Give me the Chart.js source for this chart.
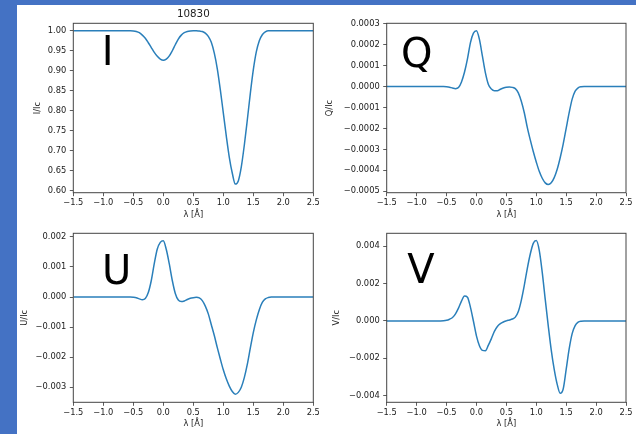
<!DOCTYPE html>
<html>
<head>
<meta charset="utf-8">
<script src="https://cdn.jsdelivr.net/npm/chart.js@4.4.0/dist/chart.umd.min.js"></script>
<style>
  body { margin: 0; background: #fff; }
  #page { position: relative; width: 636px; height: 434px; overflow: hidden; background: #fff; }
  .bar { position: absolute; background: #4472c4; }
  canvas { position: absolute; }
</style>
</head>
<body>
<div id="page">
  <div class="bar" style="left:0;top:0;width:636px;height:5px"></div>
  <div class="bar" style="left:0;top:0;width:17px;height:434px"></div>
  <canvas id="cI" width="310" height="212" style="left:18px;top:6px"></canvas>
  <canvas id="cQ" width="318" height="212" style="left:318px;top:6px"></canvas>
  <canvas id="cU" width="310" height="216" style="left:18px;top:218px"></canvas>
  <canvas id="cV" width="318" height="216" style="left:318px;top:218px"></canvas>
</div>
<script>
document.addEventListener("DOMContentLoaded", function() {

// wavelength offsets (Angstrom)
var wl = [-1.5, -1.0, -0.6, -0.55, -0.5, -0.45, -0.4, -0.35, -0.3, -0.25, -0.2, -0.15, -0.1, -0.05,
          0, 0.05, 0.1, 0.15, 0.2, 0.25, 0.3, 0.35, 0.4, 0.45, 0.5, 0.55, 0.6, 0.65, 0.7, 0.75,
          0.8, 0.85, 0.9, 0.95, 1.0, 1.05, 1.1, 1.15, 1.2, 1.25, 1.3, 1.35, 1.4, 1.45, 1.5, 1.55,
          1.6, 1.65, 1.7, 1.75, 1.8, 1.85, 1.9, 2.0, 2.5];

// Stokes profiles
var iVals = [1.0, 1.0, 1.0, 1.0, 0.9995, 0.998, 0.995, 0.989, 0.981, 0.970, 0.958, 0.946, 0.936, 0.929,
             0.926, 0.929, 0.937, 0.950, 0.965, 0.979, 0.989, 0.995, 0.998, 0.9995, 1.0, 1.0, 0.999, 0.998, 0.994, 0.986,
             0.971, 0.944, 0.905, 0.853, 0.795, 0.737, 0.684, 0.644, 0.617, 0.625, 0.660, 0.714, 0.777, 0.843, 0.902, 0.947,
             0.975, 0.990, 0.997, 1.0, 1.0, 1.0, 1.0, 1.0, 1.0];

var qVals = [0, 0, 0, 0, -0.000001, -0.000003, -0.000007, -0.00001, -0.000005, 0.000022, 0.000068, 0.000132, 0.00021, 0.000255,
             0.000266, 0.000225, 0.000145, 0.000065, 0.00001, -0.000012, -0.00002, -0.00002, -0.000013, -0.000007, -0.000003, -0.000002, -0.000004, -0.00001, -0.00003, -0.00007,
             -0.000125, -0.000195, -0.000255, -0.00031, -0.00036, -0.000405, -0.000438, -0.00046, -0.000468, -0.00046, -0.000435, -0.000395, -0.00034, -0.000275, -0.0002, -0.000125,
             -0.00006, -0.000022, -0.000006, -0.000001, 0, 0, 0, 0, 0];

var uVals = [0, 0, 0, 0, -0.000005, -0.00002, -0.00006, -0.00009, -0.00005, 0.00015, 0.00055, 0.00112, 0.0016, 0.00182,
             0.00187, 0.00158, 0.0011, 0.00055, 0.00012, -0.0001, -0.00015, -0.00013, -0.00008, -0.00004, -0.00002, -0.00001, -0.00003, -0.00012, -0.0003, -0.00056,
             -0.00092, -0.00128, -0.00168, -0.00206, -0.00242, -0.00272, -0.00296, -0.00314, -0.00323, -0.00317, -0.003, -0.00268, -0.00224, -0.0017, -0.00118, -0.00076,
             -0.00042, -0.00018, -0.00006, -0.000015, 0, 0, 0, 0, 0];

var vVals = [0, 0, 0, 0.000005, 0.00003, 0.00009, 0.00018, 0.00038, 0.00068, 0.00106, 0.00133, 0.00127, 0.00072, -0.00002,
             -0.0008, -0.00133, -0.00158, -0.0016, -0.0013, -0.00095, -0.00056, -0.0003, -0.00015, -0.00006, 0, 0.00005, 0.0001, 0.0002, 0.0005, 0.0011,
             0.0019, 0.0028, 0.00358, 0.00415, 0.0043, 0.00378, 0.0026, 0.00115, -0.00025, -0.00155, -0.0026, -0.0034, -0.00388, -0.00365, -0.0026, -0.0015,
             -0.00068, -0.00025, -0.00007, -0.000015, 0, 0, 0, 0, 0];

// tick values
var xTicks = [-1.5, -1.0, -0.5, 0.0, 0.5, 1.0, 1.5, 2.0, 2.5];
var iTicks = [0.60, 0.65, 0.70, 0.75, 0.80, 0.85, 0.90, 0.95, 1.00];
var qTicks = [-0.0005, -0.0004, -0.0003, -0.0002, -0.0001, 0, 0.0001, 0.0002, 0.0003];
var uTicks = [-0.003, -0.002, -0.001, 0, 0.001, 0.002];
var vTicks = [-0.004, -0.002, 0, 0.002, 0.004];

var xLabel = 'λ [Å]';
var figTitle = '10830';

Chart.defaults.font.family = '"DejaVu Sans", sans-serif';

function fmt(v, dec) {
    return v.toFixed(dec).replace('-', '\u2212');
}

// frame, axis labels, title and the big Stokes letter
var decor = {
    id: 'decor',
    afterDraw: function(chart, args, o) {
        var ctx = chart.ctx, a = chart.chartArea;
        var w = a.right - a.left, h = a.bottom - a.top;
        ctx.save();
        ctx.strokeStyle = '#444';
        ctx.lineWidth = 1;
        ctx.strokeRect(a.left, a.top, w, h);

        ctx.fillStyle = '#222';
        ctx.textAlign = 'center';
        ctx.font = '8.3px "DejaVu Sans"';
        ctx.textBaseline = 'alphabetic';
        ctx.fillText(xLabel, a.left + w / 2, a.bottom + 24);

        ctx.save();
        ctx.translate(a.left - o.yLabelOff, a.top + h / 2);
        ctx.rotate(-Math.PI / 2);
        ctx.textBaseline = 'middle';
        ctx.fillText(o.yLabel, 0, 0);
        ctx.restore();

        if (o.title) {
            ctx.font = '10.3px "DejaVu Sans"';
            ctx.fillText(o.title, a.left + w / 2, a.top - 6.6);
        }

        ctx.fillStyle = '#000';
        ctx.font = '40px "DejaVu Sans"';
        ctx.fillText(o.letter, a.left + o.fx * w, a.top + o.fy * h);
        ctx.restore();
    }
};

var panels = [
    { id: 'cI', vals: iVals, ticks: iTicks, dec: 2, yMin: 0.5955, yMax: 1.0185, yLabel: 'I/Ic', letter: 'I', title: figTitle,
      padTop: 17.3, padRight: 14.7, yWidth: 55.3, xHeight: 25.3, fx: 0.143, fy: 0.246, yLabelOff: 35.3 },
    { id: 'cQ', vals: qVals, ticks: qTicks, dec: 4, yMin: -0.000507, yMax: 0.000302, yLabel: 'Q/Ic', letter: 'Q', title: null,
      padTop: 17.3, padRight: 10, yWidth: 68.7, xHeight: 25.3, fx: 0.126, fy: 0.258, yLabelOff: 57.2 },
    { id: 'cU', vals: uVals, ticks: uTicks, dec: 3, yMin: -0.0035, yMax: 0.00212, yLabel: 'U/Ic', letter: 'U', title: null,
      padTop: 15.3, padRight: 14.7, yWidth: 55.3, xHeight: 31.7, fx: 0.181, fy: 0.30, yLabelOff: 48.3 },
    { id: 'cV', vals: vVals, ticks: vTicks, dec: 3, yMin: -0.00436, yMax: 0.00469, yLabel: 'V/Ic', letter: 'V', title: null,
      padTop: 15.3, padRight: 10, yWidth: 68.7, xHeight: 31.7, fx: 0.143, fy: 0.294, yLabelOff: 50 }
];

panels.forEach(function(p) {
    var ctx = document.getElementById(p.id).getContext('2d');
    new Chart(ctx, {
        type: 'line',
        data: {
            datasets: [{
                data: wl.map(function(x, i) { return { x: x, y: p.vals[i] }; }),
                borderColor: '#2a7fba',
                borderWidth: 1.5,
                pointRadius: 0,
                fill: false,
                cubicInterpolationMode: 'monotone'
            }]
        },
        options: {
            responsive: false,
            animation: false,
            devicePixelRatio: 1,
            layout: { padding: { top: p.padTop, right: p.padRight, left: 0, bottom: 0 } },
            plugins: {
                legend: { display: false },
                tooltip: { enabled: false },
                decor: { yLabel: p.yLabel, letter: p.letter, title: p.title, fx: p.fx, fy: p.fy, yLabelOff: p.yLabelOff }
            },
            scales: {
                x: {
                    type: 'linear',
                    min: -1.5,
                    max: 2.5,
                    afterBuildTicks: function(s) { s.ticks = xTicks.map(function(v) { return { value: v }; }); },
                    afterFit: function(s) { s.height = p.xHeight; },
                    ticks: {
                        autoSkip: false, maxRotation: 0, padding: 2, color: '#222',
                        font: { size: 8.3 },
                        callback: function(v) { return fmt(v, 1); }
                    },
                    grid: { drawOnChartArea: false, drawTicks: true, tickLength: 3.5, color: '#333', lineWidth: 0.8 },
                    border: { display: false }
                },
                y: {
                    min: p.yMin,
                    max: p.yMax,
                    afterBuildTicks: function(s) { s.ticks = p.ticks.map(function(v) { return { value: v }; }); },
                    afterFit: function(s) { s.width = p.yWidth; },
                    ticks: {
                        autoSkip: false, padding: 3.5, color: '#222',
                        font: { size: 8.3 },
                        callback: function(v) { return fmt(v, p.dec); }
                    },
                    grid: { drawOnChartArea: false, drawTicks: true, tickLength: 3.5, color: '#333', lineWidth: 0.8 },
                    border: { display: false }
                }
            }
        },
        plugins: [decor]
    });
});

});
</script>
</body>
</html>
